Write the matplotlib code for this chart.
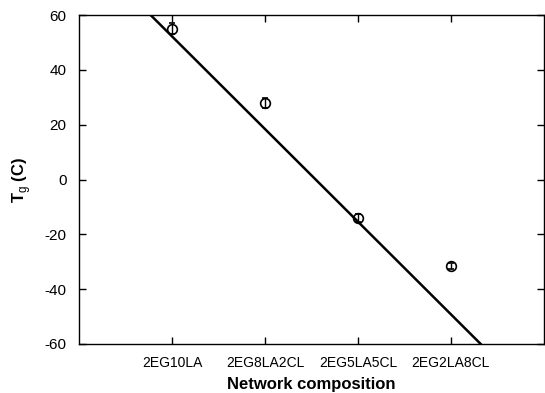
import matplotlib.pyplot as plt

# Glass transition temperature per network composition
compositions = ["2EG10LA", "2EG8LA2CL", "2EG5LA5CL", "2EG2LA8CL"]
positions = [1, 2, 3, 4]
tg_values = [55, 28, -14, -31.5]
tg_errors = [2, 1.8, 1.5, 1.2]

# trend line endpoints (composition index, Tg)
trend_x = [0.77, 4.32]
trend_y = [60, -60]

y_ticks = [-60, -40, -20, 0, 20, 40, 60]

plt.rcParams['font.family'] = ['Liberation Sans', 'DejaVu Sans']
plt.rcParams['axes.unicode_minus'] = False
plt.rcParams['mathtext.fontset'] = 'custom'
plt.rcParams['mathtext.rm'] = 'Liberation Sans'
plt.rcParams['mathtext.bf'] = 'Liberation Sans:bold'

fig = plt.figure(figsize=(5.45, 3.93), dpi=100)
ax = fig.add_axes([0.145, 0.1247, 0.853, 0.837])

ax.plot(trend_x, trend_y, color='black', lw=1.8, zorder=2)
ax.errorbar(positions, tg_values, yerr=tg_errors, fmt='o', ms=7,
            mfc='none', mec='black', mew=1.2, ecolor='black',
            elinewidth=1.0, capsize=2.5, capthick=1.0, zorder=3)

ax.set_xlim(0, 5)
ax.set_ylim(-60, 60)
ax.set_xticks(positions)
ax.set_xticklabels(compositions, fontsize=10)
ax.set_yticks(y_ticks)
ax.tick_params(axis='y', labelsize=11, pad=9)
ax.tick_params(axis='x', pad=9)
ax.tick_params(direction='in', length=5, width=1, top=True, right=True)

for sp in ax.spines.values():
    sp.set_linewidth(1)

ax.set_xlabel("Network composition", fontsize=12, fontweight='bold', labelpad=5)
ax.set_ylabel(r"T$_{\mathrm{g}}$ (C)", fontsize=12, fontweight='bold', labelpad=8)

fig.savefig("out.png", dpi=100)
